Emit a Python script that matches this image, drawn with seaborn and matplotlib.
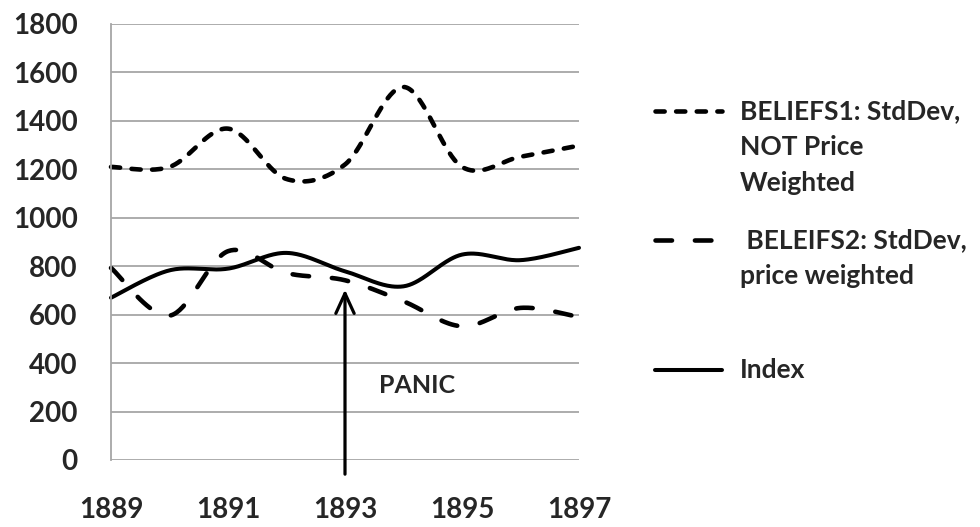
import numpy as np
import matplotlib
matplotlib.use("Agg")
import matplotlib.pyplot as plt
from matplotlib.lines import Line2D
import seaborn as sns

# Annual observations
years = [1889, 1890, 1891, 1892, 1893, 1894, 1895, 1896, 1897]
beliefs1 = [1210, 1210, 1368, 1160, 1220, 1540, 1210, 1252, 1298]
beliefs2 = [793, 596, 862, 772, 742, 655, 552, 628, 590]
index = [670, 783, 790, 855, 779, 717, 848, 825, 876]

y_ticks = [0, 200, 400, 600, 800, 1000, 1200, 1400, 1600, 1800]
x_ticks = [1889, 1891, 1893, 1895, 1897]

label_b1 = ["BELIEFS1: StdDev,", "NOT Price", "Weighted"]
label_b2 = [" BELEIFS2: StdDev,", "price weighted"]
label_idx = ["Index"]
panic_text = "PANIC"
panic_year = 1893

W, H = 980, 527

sns.set_theme(style="white")
plt.rcParams["font.family"] = ["Lato", "DejaVu Sans"]
plt.rcParams["font.weight"] = "bold"


def smooth(xv, yv, steps=40):
    """Spreadsheet-style smoothed line: Catmull-Rom segments as cubic Beziers."""
    p = np.column_stack([xv, yv]).astype(float)
    ext = np.vstack([p[0], p, p[-1]])
    out = []
    t = np.linspace(0, 1, steps, endpoint=False)[:, None]
    for i in range(1, len(ext) - 2):
        p0, p1, p2, p3 = ext[i - 1], ext[i], ext[i + 1], ext[i + 2]
        c1 = p1 + (p2 - p0) / 6.0
        c2 = p2 - (p3 - p1) / 6.0
        seg = ((1 - t) ** 3) * p1 + 3 * ((1 - t) ** 2) * t * c1 \
            + 3 * (1 - t) * t ** 2 * c2 + t ** 3 * p2
        out.append(seg)
    out.append(p[-1][None, :])
    out = np.vstack(out)
    return out[:, 0], out[:, 1]


fig = plt.figure(figsize=(W / 100, H / 100), dpi=100)
ax = fig.add_axes([111 / W, 1 - 460 / H, (579 - 111) / W, (460 - 24) / H])

LW1, LW2, LW3 = 3.3, 3.3, 2.9
DASH1 = (2.0, 2.5)
DASH2 = (3.6, 5.0)

styles = [
    (beliefs1, LW1, DASH1),
    (beliefs2, LW2, DASH2),
    (index, LW3, None),
]
for values, lw, dash in styles:
    xs, ys = smooth(years, values)
    sns.lineplot(x=xs, y=ys, ax=ax, color="black", linewidth=lw,
                 sort=False, estimator=None, legend=False)
    line = ax.lines[-1]
    line.set_solid_capstyle("round")
    line.set_dash_capstyle("round")
    line.set_clip_on(False)
    if dash is not None:
        line.set_dashes(dash)

ax.set_xlim(years[0], years[-1])
ax.set_ylim(y_ticks[0], y_ticks[-1])
ax.set_xticks(x_ticks)
ax.set_yticks(y_ticks)
ax.set_xticklabels([str(v) for v in x_ticks], fontsize=20, fontweight="bold")
ax.set_yticklabels([str(v) for v in y_ticks], fontsize=20, fontweight="bold")
ax.tick_params(axis="y", length=0, pad=24)
ax.tick_params(axis="x", length=0, pad=27)
ax.set_xlabel("")
ax.set_ylabel("")

ax.yaxis.grid(True, color="#a6a6a6", linewidth=1.3)
ax.xaxis.grid(False)
ax.set_axisbelow(True)
for side in ["top", "right", "bottom"]:
    ax.spines[side].set_visible(False)
ax.spines["left"].set_color("#a6a6a6")
ax.spines["left"].set_linewidth(1.3)

# Panic arrow and label
ax.annotate("", xy=(panic_year, 715), xytext=(panic_year, -70),
            arrowprops=dict(arrowstyle="->,head_length=1.2,head_width=0.55",
                            color="black", lw=2.3),
            annotation_clip=False)
ax.text(1894.23, 306, panic_text, fontsize=18, fontweight="bold",
        ha="center", va="center")

# Legend drawn at the right
entries = [
    (label_b1, 111, LW1, DASH1),
    (label_b2, 240, LW2, DASH2),
    (label_idx, 370, LW3, None),
]
line_step = 36
for lines, y0, lw, dash in entries:
    handle = Line2D([655 / W, 722 / W], [1 - y0 / H, 1 - y0 / H],
                    transform=fig.transFigure, color="black", linewidth=lw,
                    solid_capstyle="round", dash_capstyle="round")
    if dash is not None:
        handle.set_dashes(dash)
    fig.add_artist(handle)
    for k, txt in enumerate(lines):
        fig.text(740 / W, 1 - (y0 + k * line_step) / H, txt, fontsize=19,
                 fontweight="bold", ha="left", va="center")

fig.savefig("out.png", dpi=100, facecolor="white")
